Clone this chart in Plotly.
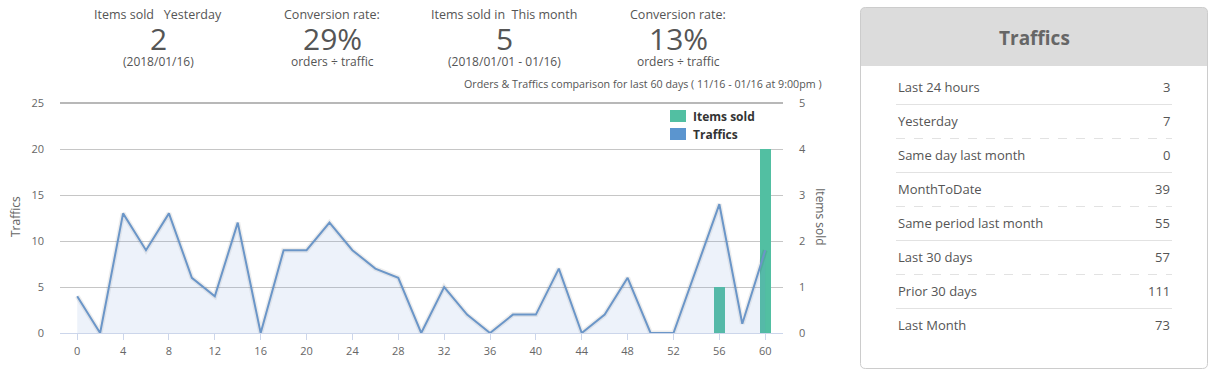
import plotly.graph_objects as go

# ---------------- data ----------------
days = [0, 2, 4, 6, 8, 10, 12, 14, 16, 18, 20, 22, 24, 26, 28, 30,
        32, 34, 36, 38, 40, 42, 44, 46, 48, 50, 52, 54, 56, 58, 60]
traffics = [4, 0, 13, 9, 13, 6, 4, 12, 0, 9, 9, 12, 9, 7, 6, 0,
            5, 2, 0, 2, 2, 7, 0, 2, 6, 0, 0, 7, 14, 1, 9]
sold_days = [56, 60]
items_sold = [1, 4]

stat_labels = ["Items sold   Yesterday", "Conversion rate:", "Items sold in  This month", "Conversion rate:"]
stat_values = ["2", "29%", "5", "13%"]
stat_subs = ["(2018/01/16)", "orders ÷ traffic", "(2018/01/01 - 01/16)", "orders ÷ traffic"]
chart_caption = "Orders & Traffics comparison for last 60 days ( 11/16 - 01/16 at 9:00pm )"

panel_title = "Traffics"
traffic_labels = ["Last 24 hours", "Yesterday", "Same day last month", "MonthToDate",
                  "Same period last month", "Last 30 days", "Prior 30 days", "Last Month"]
traffic_values = [3, 7, 0, 39, 55, 57, 111, 73]

# ---------------- layout helpers ----------------
W, H = 1216, 376
FONT = "Open Sans"
def px(x):
    return x / W
def py(y):
    return 1 - y / H

GREEN = "#52bfa2"
BLUE_SW = "#5b95cf"
LINE = "#6b96c8"
TXT = "#555555"

fig = go.Figure()

fig.add_trace(go.Bar(x=sold_days, y=items_sold, width=0.95, marker=dict(color=GREEN, line=dict(width=0)),
                     name="Items sold", yaxis="y", xaxis="x", hoverinfo="x+y"))
fig.add_trace(go.Scatter(x=days, y=traffics, mode="lines", line=dict(color="rgba(0,0,0,0.07)", width=5),
                         yaxis="y2", xaxis="x", hoverinfo="skip", showlegend=False))
fig.add_trace(go.Scatter(x=days, y=traffics, mode="lines", fill="tozeroy",
                         fillcolor="rgba(110,150,210,0.12)", line=dict(color=LINE, width=2),
                         name="Traffics", yaxis="y2", xaxis="x"))

x0, x1 = 60, 783
ytop, ybot = 103, 333
tickfont = dict(family=FONT, size=11, color="#666666")
fig.update_layout(
    template="none",
    width=W, height=H,
    margin=dict(l=0, r=0, t=0, b=0, pad=0, autoexpand=False),
    paper_bgcolor="white", plot_bgcolor="white",
    showlegend=False,
    bargap=0,
    font=dict(family=FONT, color=TXT),
    xaxis=dict(domain=[px(x0), px(x1)], range=[-1.5, 61.55], tickmode="linear", tick0=0, dtick=4,
               showgrid=False, zeroline=False, showline=True, linecolor="#ccd6eb", linewidth=1,
               ticks="outside", ticklen=6, tickcolor="#ccd6eb", ticklabelstandoff=2, automargin=False,
               tickfont=tickfont, fixedrange=True),
    yaxis=dict(domain=[py(ybot), py(ytop)], range=[0, 5], side="right", dtick=1, tick0=0,
               showgrid=True, gridcolor="#c6c6c6", gridwidth=1, zeroline=False, showline=False,
               ticks="", ticklabelstandoff=15, tickfont=tickfont,
               anchor="x", fixedrange=True, automargin=False),
    yaxis2=dict(domain=[py(ybot), py(ytop)], range=[0, 25], side="left", overlaying="y", dtick=5, tick0=0,
                showgrid=False, zeroline=False, showline=False,
                ticks="", ticklabelstandoff=15, tickfont=tickfont,
                anchor="x", fixedrange=True, automargin=False),
)

shapes = []
annotations = []

def ann(text, x, y, size, color=TXT, xanchor="center", angle=0):
    annotations.append(dict(text=text, x=px(x), y=py(y), xref="paper", yref="paper", showarrow=False,
                            xanchor=xanchor, yanchor="middle", textangle=angle,
                            font=dict(family=FONT, size=size, color=color)))

# thicker top grid line
shapes.append(dict(type="line", xref="paper", yref="paper", x0=px(x0), x1=px(x1), y0=py(ytop), y1=py(ytop),
                   line=dict(color="#b8b8b8", width=2), layer="below"))

# axis titles
ann("Traffics", 15, 217, 12, "#666666", angle=-90)
ann("Items sold", 821, 217, 12, "#666666", angle=90)

# top stats
centers = [158, 332, 504, 678]
for cx, lab, val, sub in zip(centers, stat_labels, stat_values, stat_subs):
    ann(lab, cx, 14, 12.5)
    ann(val, cx, 38, 30)
    ann(sub, cx, 61, 12)
ann(chart_caption, 824, 84, 10.7, xanchor="right")

# legend (manual)
for (name, col, yc) in [("Items sold", GREEN, 116), ("Traffics", BLUE_SW, 134)]:
    shapes.append(dict(type="rect", xref="paper", yref="paper", x0=px(670), x1=px(686),
                       y0=py(yc - 6), y1=py(yc + 6), fillcolor=col, line=dict(width=0)))
    ann("<b>" + name + "</b>", 691, yc, 12, "#333333", xanchor="left")

# right panel
L, R, T, B, rr = 860.5, 1207.5, 7.5, 368.5, 5
hdr = 66
def P(x, y):
    return f"{px(x):.6f},{py(y):.6f}"
shapes.append(dict(type="path", xref="paper", yref="paper",
                   path=f"M {P(L, hdr)} L {P(L, T + rr)} Q {P(L, T)} {P(L + rr, T)} L {P(R - rr, T)} "
                        f"Q {P(R, T)} {P(R, T + rr)} L {P(R, hdr)} Z",
                   fillcolor="#dcdcdc", line=dict(width=0)))
shapes.append(dict(type="path", xref="paper", yref="paper",
                   path=f"M {P(L + rr, T)} L {P(R - rr, T)} Q {P(R, T)} {P(R, T + rr)} L {P(R, B - rr)} "
                        f"Q {P(R, B)} {P(R - rr, B)} L {P(L + rr, B)} Q {P(L, B)} {P(L, B - rr)} "
                        f"L {P(L, T + rr)} Q {P(L, T)} {P(L + rr, T)} Z",
                   fillcolor="rgba(0,0,0,0)", line=dict(color="#cccccc", width=1)))
ann("<b>" + panel_title + "</b>", 1034, 38, 19, "#666666")

row0, step = 87, 34
for i, (lab, val) in enumerate(zip(traffic_labels, traffic_values)):
    yc = row0 + i * step
    ann(lab, 896, yc, 13, xanchor="left")
    ann(str(val), 1172, yc, 13, xanchor="right")
    if i < len(traffic_labels) - 1:
        ys = yc + 17.5
        shapes.append(dict(type="line", xref="paper", yref="paper", x0=px(896), x1=px(1172),
                           y0=py(ys), y1=py(ys),
                           line=dict(color="#e2e2e2", width=1, dash="solid" if i % 2 == 0 else "dash")))

fig.update_layout(shapes=shapes, annotations=annotations)
fig.write_html("out.html", config={"displayModeBar": False},
               post_script="document.body.style.margin='0';document.body.style.overflow='hidden';")
